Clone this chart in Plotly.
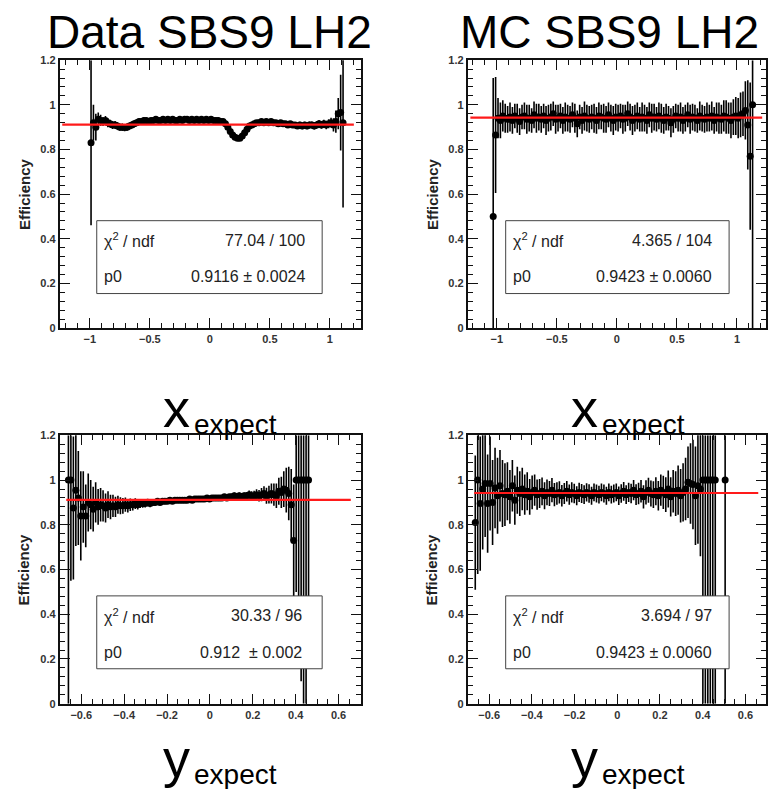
import numpy as np
import plotly.graph_objects as go

W, H = 768, 789

# ---------------- data ----------------
# Top-left: Data, x_expect (bin centres -0.99 .. 1.11, width 0.02)
tl_x = np.round(np.arange(-0.99, 1.1101, 0.02), 3)
tl_eff = [0.83, 0.92, 0.90, 0.935, 0.93, 0.925, 0.93, 0.92, 0.915, 0.91,
          0.91, 0.905, 0.90, 0.90, 0.898, 0.90, 0.905, 0.91, 0.915, 0.92,
          0.925, 0.925, 0.93, 0.93, 0.925, 0.93, 0.93, 0.935, 0.93, 0.93,
          0.935, 0.93, 0.935, 0.93, 0.935, 0.93, 0.93, 0.935, 0.93, 0.935,
          0.935, 0.93, 0.935, 0.93, 0.935, 0.93, 0.935, 0.93, 0.935, 0.93,
          0.935, 0.93, 0.93, 0.93, 0.925, 0.925, 0.915, 0.90, 0.88, 0.865,
          0.855, 0.85, 0.85, 0.86, 0.875, 0.89, 0.905, 0.91, 0.915, 0.92,
          0.92, 0.925, 0.92, 0.925, 0.92, 0.925, 0.92, 0.92, 0.915, 0.92,
          0.915, 0.915, 0.91, 0.915, 0.91, 0.91, 0.905, 0.91, 0.905, 0.91,
          0.905, 0.91, 0.91, 0.905, 0.91, 0.915, 0.91, 0.915, 0.91, 0.915,
          0.92, 0.91, 0.925, 0.96, 0.965, 0.92]
tl_err = [0.37, 0.08, 0.06, 0.03, 0.025, 0.02, 0.02, 0.02, 0.018, 0.018,
          0.017, 0.017, 0.016, 0.016, 0.016, 0.016, 0.015, 0.015, 0.015, 0.014,
          0.014, 0.013, 0.013, 0.012, 0.012, 0.012, 0.012, 0.012, 0.012, 0.012,
          0.012, 0.012, 0.012, 0.012, 0.012, 0.012, 0.012, 0.012, 0.012, 0.012,
          0.012, 0.012, 0.012, 0.012, 0.012, 0.012, 0.012, 0.012, 0.012, 0.012,
          0.012, 0.012, 0.012, 0.012, 0.012, 0.012, 0.012, 0.012, 0.012, 0.012,
          0.012, 0.012, 0.012, 0.012, 0.012, 0.012, 0.012, 0.012, 0.012, 0.012,
          0.012, 0.012, 0.012, 0.012, 0.012, 0.012, 0.012, 0.012, 0.012, 0.012,
          0.012, 0.012, 0.012, 0.012, 0.013, 0.013, 0.013, 0.014, 0.014, 0.014,
          0.015, 0.015, 0.015, 0.016, 0.016, 0.017, 0.017, 0.018, 0.019, 0.02,
          0.022, 0.03, 0.05, 0.07, 0.17, 0.38]

# Top-right: MC, x_expect (bin centres -1.03 .. 1.13, width 0.02)
tr_x = np.round(np.arange(-1.03, 1.1301, 0.02), 3)
tr_eff = [0.50, 0.865, 0.94, 0.93, 0.95, 0.94, 0.935, 0.945, 0.93, 0.95,
          0.94, 0.925, 0.945, 0.95, 0.935, 0.94, 0.93, 0.955, 0.94, 0.945,
          0.935, 0.95, 0.93, 0.94, 0.945, 0.96, 0.935, 0.94, 0.95, 0.93,
          0.945, 0.94, 0.935, 0.955, 0.94, 0.915, 0.945, 0.93, 0.95, 0.94,
          0.935, 0.945, 0.94, 0.93, 0.95, 0.945, 0.94, 0.935, 0.955, 0.94,
          0.93, 0.945, 0.94, 0.95, 0.935, 0.94, 0.96, 0.945, 0.93, 0.94,
          0.95, 0.935, 0.945, 0.94, 0.93, 0.955, 0.94, 0.945, 0.935, 0.95,
          0.94, 0.93, 0.945, 0.94, 0.92, 0.935, 0.95, 0.94, 0.945, 0.93,
          0.94, 0.955, 0.935, 0.945, 0.94, 0.93, 0.95, 0.94, 0.935, 0.945,
          0.94, 0.95, 0.93, 0.945, 0.94, 0.935, 0.95, 0.945, 0.94, 0.93,
          0.945, 0.95, 0.94, 0.955, 0.96, 0.975, 0.91, 0.77, 1.00]
tr_err = [0.62, 0.26, 0.09, 0.08, 0.07, 0.065, 0.06, 0.065, 0.06, 0.055,
          0.065, 0.06, 0.055, 0.06, 0.065, 0.06, 0.055, 0.06, 0.065, 0.06,
          0.06, 0.055, 0.065, 0.06, 0.06, 0.055, 0.065, 0.06, 0.055, 0.06,
          0.065, 0.06, 0.06, 0.055, 0.065, 0.06, 0.055, 0.06, 0.065, 0.06,
          0.06, 0.055, 0.065, 0.06, 0.06, 0.055, 0.065, 0.06, 0.055, 0.06,
          0.065, 0.06, 0.06, 0.055, 0.065, 0.06, 0.055, 0.06, 0.065, 0.06,
          0.06, 0.055, 0.065, 0.06, 0.06, 0.055, 0.065, 0.06, 0.055, 0.06,
          0.065, 0.06, 0.06, 0.055, 0.065, 0.06, 0.055, 0.06, 0.065, 0.06,
          0.06, 0.055, 0.065, 0.06, 0.06, 0.055, 0.065, 0.06, 0.06, 0.065,
          0.06, 0.065, 0.06, 0.065, 0.07, 0.065, 0.07, 0.075, 0.07, 0.08,
          0.08, 0.085, 0.09, 0.1, 0.1, 0.13, 0.2, 0.33, 0.2]
tr_lo_idx = [108]
tr_lo_val = [1.0]

# Bottom-left: Data, y_expect (98 bins between -0.66 and 0.46)
bl_x = np.round(np.linspace(-0.66, 0.46, 98), 4)
bl_eff = [1.00, 1.00, 0.875, 0.955, 0.92, 0.84, 0.88, 0.84, 0.90, 0.89,
          0.87, 0.90, 0.88, 0.89, 0.885, 0.875, 0.89, 0.88, 0.885, 0.88,
          0.89, 0.885, 0.885, 0.89, 0.885, 0.89, 0.89, 0.895, 0.89, 0.895,
          0.895, 0.895, 0.90, 0.895, 0.90, 0.90, 0.905, 0.90, 0.905, 0.905,
          0.905, 0.91, 0.905, 0.91, 0.91, 0.91, 0.91, 0.91, 0.91, 0.915,
          0.91, 0.915, 0.915, 0.915, 0.915, 0.915, 0.92, 0.915, 0.92, 0.92,
          0.92, 0.92, 0.92, 0.925, 0.92, 0.925, 0.925, 0.93, 0.925, 0.93,
          0.925, 0.93, 0.93, 0.935, 0.93, 0.93, 0.935, 0.93, 0.935, 0.94,
          0.93, 0.935, 0.94, 0.935, 0.93, 0.95, 0.945, 0.96, 0.955, 0.94,
          0.89, 0.73, 1.00, 1.00, 1.00, 1.00, 1.00, 1.00]
bl_err = [0.20, 0.20, 0.32, 0.25, 0.21, 0.20, 0.16, 0.14, 0.13, 0.11,
          0.10, 0.09, 0.08, 0.075, 0.07, 0.065, 0.06, 0.055, 0.05, 0.045,
          0.04, 0.038, 0.035, 0.032, 0.03, 0.028, 0.026, 0.024, 0.022, 0.02,
          0.019, 0.018, 0.017, 0.016, 0.015, 0.014, 0.014, 0.013, 0.013, 0.013,
          0.012, 0.012, 0.012, 0.012, 0.012, 0.012, 0.012, 0.012, 0.012, 0.012,
          0.012, 0.012, 0.012, 0.012, 0.012, 0.012, 0.012, 0.012, 0.012, 0.012,
          0.012, 0.012, 0.012, 0.013, 0.013, 0.013, 0.013, 0.014, 0.014, 0.014,
          0.014, 0.015, 0.016, 0.018, 0.02, 0.022, 0.024, 0.026, 0.03, 0.033,
          0.036, 0.04, 0.045, 0.05, 0.055, 0.06, 0.07, 0.08, 0.10, 0.12,
          0.16, 0.25, 0.20, 0.20, 0.20, 0.20, 0.20, 0.20]
bl_lo_idx = [0, 1, 92, 93, 94, 95, 96, 97]
bl_lo_val = [1.0, 0.45, 0.5, 0.55, 0.9, 1.0, 1.0, 0.75]

# Bottom-right: MC, y_expect (102 bins between -0.665 and 0.505)
br_x = np.round(np.linspace(-0.665, 0.505, 102), 4)
br_eff = [0.81, 1.00, 0.895, 0.96, 0.985, 0.895, 0.985, 0.90, 0.965, 0.93,
          0.975, 0.94, 0.935, 0.95, 0.925, 0.975, 0.91, 0.955, 0.94, 0.96,
          0.935, 0.95, 0.925, 0.945, 0.955, 0.935, 0.94, 0.95, 0.93, 0.945,
          0.94, 0.955, 0.935, 0.94, 0.945, 0.93, 0.94, 0.95, 0.935, 0.945,
          0.94, 0.93, 0.945, 0.94, 0.935, 0.945, 0.94, 0.93, 0.945, 0.94,
          0.935, 0.945, 0.94, 0.93, 0.945, 0.935, 0.94, 0.945, 0.93, 0.94,
          0.95, 0.935, 0.945, 0.94, 0.955, 0.935, 0.94, 0.95, 0.925, 0.945,
          0.955, 0.94, 0.935, 0.95, 0.93, 0.955, 0.945, 0.935, 0.96, 0.925,
          0.95, 0.94, 0.955, 0.93, 0.945, 0.96, 0.99, 0.985, 0.98, 0.93,
          0.975, 0.96, 1.00, 1.00, 1.00, 1.00, 1.00, 1.00, None, None,
          None, 1.00]
br_err = [0.30, 0.20, 0.30, 0.27, 0.24, 0.22, 0.21, 0.19, 0.18, 0.17,
          0.16, 0.15, 0.14, 0.13, 0.12, 0.115, 0.11, 0.105, 0.10, 0.095,
          0.09, 0.085, 0.08, 0.075, 0.07, 0.068, 0.065, 0.062, 0.06, 0.058,
          0.056, 0.054, 0.052, 0.05, 0.05, 0.048, 0.047, 0.046, 0.045, 0.045,
          0.044, 0.043, 0.043, 0.042, 0.042, 0.041, 0.041, 0.04, 0.04, 0.04,
          0.04, 0.04, 0.04, 0.04, 0.04, 0.04, 0.04, 0.04, 0.041, 0.041,
          0.042, 0.042, 0.043, 0.044, 0.045, 0.046, 0.048, 0.05, 0.052, 0.054,
          0.056, 0.058, 0.06, 0.063, 0.066, 0.07, 0.074, 0.078, 0.083, 0.088,
          0.095, 0.10, 0.11, 0.12, 0.13, 0.14, 0.16, 0.18, 0.20, 0.22,
          0.26, 0.30, 0.20, 0.20, 0.20, 0.20, 0.20, 0.20, 0, 0,
          0, 0.20]
br_lo_idx = [1, 92, 93, 94, 95, 96, 97, 101]
br_lo_val = [0.42, 1.0, 1.0, 1.0, 1.0, 1.0, 1.0, 1.0]

# fit results (p0) and fit ranges
titles = ["Data SBS9 LH2", "MC SBS9 LH2"]
p0 = [0.9116, 0.9423, 0.912, 0.9423]
fit_lo = [-1.23, -1.22, -0.67, -0.67]
fit_hi = [1.20, 1.21, 0.657, 0.66]
chi2_txt = ["77.04 / 100", "4.365 / 104", "30.33 / 96", "3.694 / 97"]
p0_txt = ["0.9116 \u00b1 0.0024", "0.9423 \u00b1 0.0060",
          "0.912  \u00b1 0.002", "0.9423 \u00b1 0.0060"]
xvar = ["x", "x", "y", "y"]

# ---------------- layout helpers ----------------
def px(x):
    return x / W

def py(y):
    return 1 - y / H

# plot frames in pixels: (left, right, top, bottom)
frames = [(60, 361.7, 55, 327), (469, 768, 55, 327),
          (60, 361.7, 436, 708.5), (469, 768, 436, 708.5)]
xranges = [[-1.25, 1.2575], [-1.2417, 1.2417], [-0.7, 0.7035], [-0.7, 0.6963]]

series = [(tl_x, tl_eff, tl_err, [], []),
          (tr_x, tr_eff, tr_err, tr_lo_idx, tr_lo_val),
          (bl_x, bl_eff, bl_err, bl_lo_idx, bl_lo_val),
          (br_x, br_eff, br_err, br_lo_idx, br_lo_val)]

fig = go.Figure()
ink = "#111111"

for k, (xs, ys, eu, lo_i, lo_v) in enumerate(series):
    ax = "" if k == 0 else str(k + 1)
    el = list(eu)
    for i, v in zip(lo_i, lo_v):
        el[i] = v
    fig.add_trace(go.Scatter(
        x=xs, y=ys, mode="markers",
        marker=dict(color="black", size=7),
        error_y=dict(type="data", symmetric=False, array=eu, arrayminus=el,
                     color="black", thickness=1.6, width=0),
        xaxis="x" + ax, yaxis="y" + ax, showlegend=False, cliponaxis=True))
    fig.add_trace(go.Scatter(
        x=[fit_lo[k], fit_hi[k]], y=[p0[k], p0[k]], mode="lines",
        line=dict(color="#ff1a1a", width=2.2),
        xaxis="x" + ax, yaxis="y" + ax, showlegend=False))

layout = dict(width=W, height=H, margin=dict(l=0, r=0, t=0, b=0),
              paper_bgcolor="white", plot_bgcolor="white", showlegend=False)

tickfont = dict(family="Liberation Sans", size=11, color="#333", weight="bold")
for k in range(4):
    l, r, t, b = frames[k]
    top = k < 2
    xa = dict(domain=[px(l), min(px(r), 1.0)], range=xranges[k],
              showgrid=False, zeroline=False, showline=True, linewidth=2,
              linecolor=ink, mirror="allticks", ticks="inside",
              ticklen=10, tickwidth=1, tickcolor=ink,
              dtick=0.5 if top else 0.2, tick0=0,
              minor=dict(dtick=0.1 if top else 0.05, ticklen=5,
                         ticks="inside", tickcolor=ink, tickwidth=1),
              tickfont=tickfont, anchor="y" + ("" if k == 0 else str(k + 1)))
    ya = dict(domain=[py(b), py(t)], range=[0, 1.2],
              showgrid=False, zeroline=False, showline=True, linewidth=2,
              linecolor=ink, mirror="allticks", ticks="inside",
              ticklen=10, tickwidth=1, tickcolor=ink, dtick=0.2, tick0=0,
              minor=dict(dtick=0.04, ticklen=5, ticks="inside",
                         tickcolor=ink, tickwidth=1),
              tickfont=tickfont, anchor="x" + ("" if k == 0 else str(k + 1)))
    layout["xaxis" + ("" if k == 0 else str(k + 1))] = xa
    layout["yaxis" + ("" if k == 0 else str(k + 1))] = ya

fig.update_layout(**layout)

ann = []
shapes = []
big = "Liberation Sans"


def note(x, y, text, size, family="Liberation Sans", color="#222",
         xanchor="center", yanchor="middle", angle=0):
    ann.append(dict(x=px(x), y=py(y), xref="paper", yref="paper", text=text,
                    showarrow=False, textangle=angle,
                    font=dict(family=family, size=size, color=color),
                    xanchor=xanchor, yanchor=yanchor))


# titles
note(210, 26, titles[0], 46, family=big, color="black")
note(611, 26, titles[1], 46, family=big, color="black")

for k in range(4):
    l, r, t, b = frames[k]
    left = k % 2 == 0
    # y-axis title
    note(l - 36, (t + b) / 2, "<b>Efficiency</b>", 15, angle=-90)
    # stats box
    bx0 = 97 if left else 507
    bx1 = 323 if left else 731
    by0 = t + 163
    by1 = t + 237
    shapes.append(dict(type="rect", xref="paper", yref="paper",
                       x0=px(bx0), x1=px(bx1), y0=py(by1), y1=py(by0),
                       line=dict(color="#444", width=1), fillcolor="white"))
    rx = (308 if k == 0 else 305) if left else 716
    for row, (lt, rt) in enumerate([("\u03c7<sup>2</sup> / ndf", chi2_txt[k]),
                                     ("p0", p0_txt[k])]):
        yy = by0 + 20 + row * 37
        note(bx0 + 5, yy, lt, 16, xanchor="left")
        note(rx, yy, rt, 16, xanchor="right")
    # axis label x_expect / y_expect
    cy = b + 81 if k < 2 else b + 55
    cx = 193 if left else 602
    note(cx, cy, xvar[k], 54, family=big, color="black", xanchor="right")
    note(cx, cy + 17, "expect", 28, family=big, color="black", xanchor="left")

fig.update_layout(annotations=ann, shapes=shapes)
fig.write_html("out.html")
